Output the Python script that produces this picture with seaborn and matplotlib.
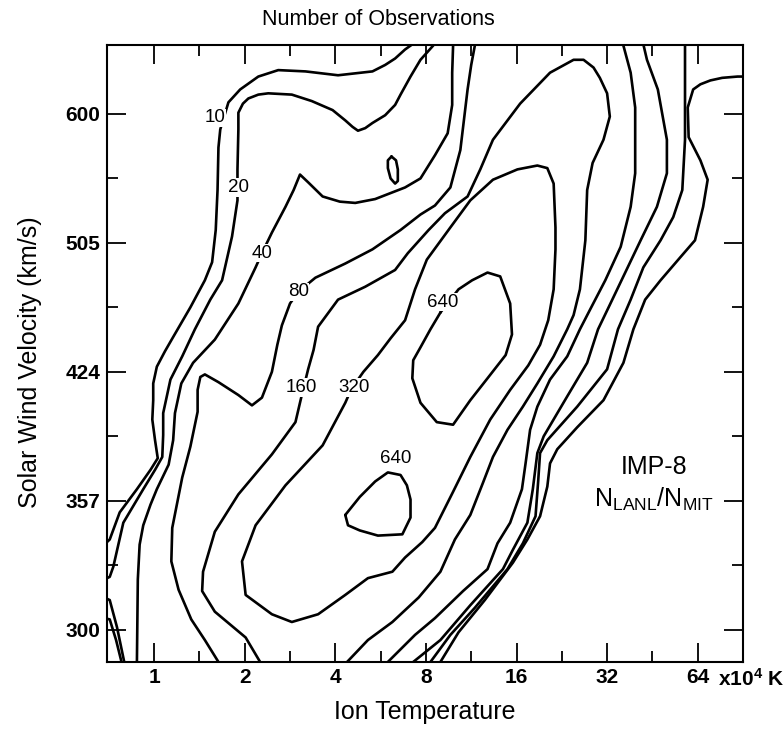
import numpy as np
import pandas as pd
import matplotlib
matplotlib.use("Agg")
import matplotlib.pyplot as plt
from matplotlib.ticker import FixedLocator, NullFormatter
import seaborn as sns

# Iso-count lines.
# x values: octaves of ion temperature above 1e4 K (0 -> 1, 6 -> 64)
# y values: quarter-octave steps of wind speed above 300 km/s (0 -> 300, 4 -> 600)

c10_west_oct = [-0.55, -0.49, -0.38, -0.19, -0.04, 0.04, 0.01, -0.02, -0.01, -0.01, 0.03, 0.12, 0.21, 0.40, 0.56, 0.64,
                0.68, 0.70, 0.71, 0.73, 0.82, 0.95, 1.15, 1.37, 1.67, 2.03, 2.41, 2.55, 2.66, 2.77, 2.85, 2.88]
c10_west_step = [0.66, 0.70, 0.91, 1.09, 1.24, 1.33, 1.47, 1.63, 1.78, 1.91, 2.04, 2.16, 2.27, 2.50, 2.71, 2.85,
                 3.10, 3.41, 3.74, 3.88, 4.09, 4.19, 4.29, 4.34, 4.33, 4.30, 4.33, 4.38, 4.43, 4.50, 4.54, 4.57]
c10_corner_oct = [-0.55, -0.49, -0.42, -0.36, -0.35]
c10_corner_step = [0.09, 0.08, -0.08, -0.25, -0.29]
c10_east_oct = [6.54, 6.44, 6.27, 6.14, 6.03, 5.95, 5.89, 5.90, 6.03, 6.11, 6.06, 5.97, 5.81, 5.59, 5.42, 5.29,
                5.18, 4.96, 4.67, 4.45, 4.37, 4.34, 4.26, 4.12, 3.96, 3.65, 3.36, 3.16, 3.12]
c10_east_step = [4.29, 4.29, 4.28, 4.26, 4.23, 4.19, 4.05, 3.82, 3.64, 3.49, 3.28, 3.02, 2.89, 2.71, 2.56, 2.33,
                 2.07, 1.78, 1.57, 1.40, 1.29, 1.11, 0.88, 0.70, 0.52, 0.23, -0.02, -0.25, -0.28]

c20_west_oct = [-0.55, -0.49, -0.45, -0.34, -0.12, 0.01, 0.09, 0.10, 0.10, 0.18, 0.31, 0.45, 0.62, 0.75, 0.86, 0.92,
                0.92, 0.93, 0.93, 0.98, 1.04, 1.15, 1.26, 1.52, 1.74, 1.97, 2.11, 2.19, 2.25, 2.33, 2.41, 2.55,
                2.66, 2.72, 2.83, 2.94, 3.08, 3.11]
c20_west_step = [0.39, 0.41, 0.49, 0.83, 1.09, 1.24, 1.34, 1.51, 1.68, 1.94, 2.12, 2.33, 2.56, 2.71, 3.05, 3.33,
                 3.57, 3.88, 4.01, 4.08, 4.12, 4.15, 4.16, 4.15, 4.10, 4.03, 3.95, 3.90, 3.87, 3.89, 3.93, 3.99,
                 4.07, 4.15, 4.29, 4.42, 4.53, 4.57]
c20_corner_oct = [-0.55, -0.49, -0.41, -0.33, -0.32]
c20_corner_step = [0.25, 0.23, 0.02, -0.25, -0.29]
c20_east_oct = [5.86, 5.86, 5.86, 5.83, 5.73, 5.59, 5.40, 5.26, 5.12, 5.00, 4.67, 4.34, 4.26, 4.24, 4.21, 4.07,
                3.90, 3.54, 3.27, 3.05, 3.01]
c20_east_step = [4.57, 4.32, 3.80, 3.41, 3.20, 3.02, 2.81, 2.56, 2.33, 2.02, 1.73, 1.47, 1.37, 1.16, 0.88, 0.67,
                 0.47, 0.17, -0.04, -0.25, -0.29]

c40_west_oct = [-0.19, -0.19, -0.18, -0.16, -0.12, -0.04, 0.03, 0.16, 0.21, 0.23, 0.30, 0.43, 0.67, 0.93, 1.12, 1.19,
                1.30, 1.45, 1.54, 1.61, 1.70, 1.86, 2.05, 2.22, 2.44, 2.66, 2.77, 2.94, 3.10, 3.24, 3.29, 3.29,
                3.30, 3.30]
c40_west_step = [-0.29, -0.25, 0.39, 0.66, 0.81, 0.97, 1.09, 1.28, 1.47, 1.68, 1.91, 2.07, 2.25, 2.53, 2.81, 2.92,
                 3.08, 3.28, 3.41, 3.53, 3.47, 3.36, 3.32, 3.31, 3.34, 3.40, 3.43, 3.50, 3.68, 3.85, 4.07, 4.32,
                 4.53, 4.57]
c40_islet_oct = [2.62, 2.67, 2.69, 2.69, 2.66, 2.61, 2.58, 2.58]
c40_islet_step = [3.67, 3.64, 3.57, 3.48, 3.46, 3.50, 3.58, 3.64]
c40_east_oct = [5.39, 5.44, 5.56, 5.66, 5.66, 5.55, 5.37, 5.20, 5.03, 4.90, 4.78, 4.56, 4.30, 4.23, 4.18, 4.12,
                3.96, 3.85, 3.49, 3.16, 2.86, 2.83]
c40_east_step = [4.57, 4.42, 4.19, 3.80, 3.54, 3.28, 3.02, 2.77, 2.52, 2.33, 2.07, 1.81, 1.50, 1.37, 1.09, 0.83,
                 0.62, 0.47, 0.19, -0.08, -0.25, -0.28]

c80_west_oct = [0.72, 0.71, 0.56, 0.41, 0.27, 0.19, 0.20, 0.31, 0.40, 0.48, 0.48, 0.51, 0.56, 0.71, 0.93, 1.08,
                1.19, 1.30, 1.36, 1.41, 1.50, 1.59, 1.78, 2.11, 2.41, 2.72, 2.94, 3.10, 3.27, 3.38, 3.46, 3.50,
                3.54, 3.56]
c80_west_step = [-0.29, -0.25, -0.08, 0.08, 0.31, 0.53, 0.79, 1.18, 1.42, 1.69, 1.86, 1.96, 1.98, 1.92, 1.82, 1.74,
                 1.80, 2.00, 2.21, 2.36, 2.53, 2.62, 2.73, 2.84, 2.95, 3.10, 3.22, 3.29, 3.43, 3.72, 4.19, 4.38,
                 4.53, 4.57]
c80_east_oct = [5.18, 5.18, 5.26, 5.31, 5.31, 5.26, 5.15, 4.98, 4.81, 4.70, 4.56, 4.37, 4.23, 4.15, 4.10, 4.06,
                3.93, 3.79, 3.68, 3.41, 3.10, 2.88, 2.58, 2.55]
c80_east_step = [4.57, 4.53, 4.32, 4.05, 3.54, 3.28, 2.97, 2.71, 2.48, 2.33, 2.12, 1.94, 1.73, 1.55, 1.29, 1.09,
                 0.83, 0.67, 0.47, 0.30, 0.09, -0.04, -0.25, -0.28]

c160_oct = [1.18, 1.17, 1.01, 0.67, 0.53, 0.54, 0.67, 0.93, 1.30, 1.56, 1.63, 1.70, 1.76, 1.81, 2.03, 2.33,
            2.66, 2.80, 3.03, 3.21, 3.46, 3.60, 3.74, 4.04, 4.37, 4.63, 4.74, 4.85, 4.92, 5.00, 5.03, 4.96,
            4.84, 4.78, 4.76, 4.70, 4.63, 4.56, 4.41, 4.23, 4.07, 3.90, 3.74, 3.63, 3.49, 3.32, 3.16, 2.92,
            2.63, 2.36, 2.13, 2.10]
c160_step = [-0.29, -0.25, -0.06, 0.14, 0.30, 0.45, 0.76, 1.05, 1.36, 1.61, 1.82, 2.02, 2.17, 2.35, 2.56, 2.66,
             2.79, 2.92, 3.10, 3.23, 3.36, 3.57, 3.80, 4.08, 4.32, 4.42, 4.42, 4.36, 4.28, 4.16, 3.98, 3.80,
             3.62, 3.41, 3.02, 2.64, 2.44, 2.33, 2.12, 1.91, 1.73, 1.55, 1.34, 1.14, 0.89, 0.70, 0.45, 0.25,
             0.06, -0.08, -0.25, -0.28]

c320_oct = [2.16, 2.11, 1.86, 1.45, 1.12, 0.97, 1.01, 1.30, 1.52, 1.81, 2.11, 2.36, 2.63, 2.77, 2.96, 3.10,
            3.30, 3.49, 3.71, 3.93, 4.13, 4.26, 4.35, 4.41, 4.43, 4.43, 4.41, 4.34, 4.23, 4.01, 3.74, 3.49,
            3.27, 3.01, 2.88, 2.77, 2.61, 2.47, 2.31, 2.23]
c320_step = [1.84, 1.76, 1.43, 1.12, 0.81, 0.53, 0.27, 0.12, 0.06, 0.12, 0.27, 0.40, 0.45, 0.56, 0.68, 0.79,
             1.07, 1.34, 1.63, 1.86, 2.05, 2.21, 2.40, 2.64, 2.95, 3.12, 3.46, 3.58, 3.60, 3.57, 3.49, 3.33,
             3.12, 2.87, 2.64, 2.40, 2.26, 2.13, 2.00, 1.92]

c640_upper_oct = [3.16, 3.36, 3.51, 3.68, 3.82, 3.93, 3.95, 3.88, 3.68, 3.49, 3.30, 3.12, 2.94, 2.85, 2.86, 2.94, 3.05]
c640_upper_step = [2.46, 2.64, 2.71, 2.77, 2.74, 2.53, 2.29, 2.13, 1.95, 1.78, 1.59, 1.61, 1.76, 1.95, 2.09, 2.19, 2.33]
c640_lower_oct = [2.11, 2.27, 2.44, 2.58, 2.72, 2.79, 2.83, 2.83, 2.74, 2.47, 2.27, 2.14]
c640_lower_step = [0.89, 1.03, 1.15, 1.22, 1.20, 1.12, 1.01, 0.87, 0.74, 0.73, 0.77, 0.81]

label_text = ["10", "20", "40", "80", "160", "320", "640", "640"]
label_oct = [0.67, 0.93, 1.19, 1.59, 1.63, 2.21, 3.18, 2.67]
label_step = [3.97, 3.43, 2.92, 2.62, 1.88, 1.88, 2.54, 1.33]

temp_ticks = [1, 2, 4, 8, 16, 32, 64]
speed_tick_labels = ["300", "357", "424", "505", "600"]

paths = [
    ("10 west", c10_west_oct, c10_west_step, False),
    ("10 corner", c10_corner_oct, c10_corner_step, False),
    ("10 east", c10_east_oct, c10_east_step, False),
    ("20 west", c20_west_oct, c20_west_step, False),
    ("20 corner", c20_corner_oct, c20_corner_step, False),
    ("20 east", c20_east_oct, c20_east_step, False),
    ("40 west", c40_west_oct, c40_west_step, False),
    ("40 islet", c40_islet_oct, c40_islet_step, True),
    ("40 east", c40_east_oct, c40_east_step, False),
    ("80 west", c80_west_oct, c80_west_step, False),
    ("80 east", c80_east_oct, c80_east_step, False),
    ("160", c160_oct, c160_step, False),
    ("320", c320_oct, c320_step, True),
    ("640 upper", c640_upper_oct, c640_upper_step, True),
    ("640 lower", c640_lower_oct, c640_lower_step, True),
]

rows = []
for name, xs, ys, closed in paths:
    assert len(xs) == len(ys), name
    xs, ys = list(xs), list(ys)
    if closed:
        xs.append(xs[0])
        ys.append(ys[0])
    for a, b in zip(xs, ys):
        rows.append({"path": name, "temp": 2.0 ** a, "speed": 300 * 2.0 ** (b / 4)})
df = pd.DataFrame(rows)

sns.set_style("ticks")
plt.rcParams["font.family"] = ["Liberation Sans", "DejaVu Sans"]
plt.rcParams["mathtext.fontset"] = "custom"
plt.rcParams["mathtext.rm"] = "Liberation Sans"
plt.rcParams["mathtext.default"] = "regular"
for key in ["text.color", "axes.labelcolor", "xtick.color", "ytick.color", "axes.edgecolor"]:
    plt.rcParams[key] = "black"

fig = plt.figure(figsize=(7.84, 7.30), dpi=100)
ax = fig.add_axes([0.1365, 0.0932, 0.8112, 0.8452])
ax.set_xscale("log", base=2)
ax.set_yscale("log", base=2)

sns.lineplot(data=df, x="temp", y="speed", units="path", estimator=None, sort=False,
             color="black", linewidth=1.9, legend=False, ax=ax)
for line in ax.get_lines():
    line.set_solid_joinstyle("round")

for txt, a, b in zip(label_text, label_oct, label_step):
    ax.text(2.0 ** a, 300 * 2.0 ** (b / 4), txt, fontsize=13.5, ha="center", va="center", zorder=5,
            bbox=dict(facecolor="white", edgecolor="none", pad=0.6))

ax.set_xlim(2.0 ** -0.52, 2.0 ** 6.5)
ax.set_ylim(300 * 2.0 ** (-0.25 / 4), 300 * 2.0 ** (4.535 / 4))

ax.set_xticks(temp_ticks)
ax.set_xticklabels([str(t) for t in temp_ticks])
ax.xaxis.set_minor_locator(FixedLocator([2.0 ** (k + 0.5) for k in range(6)]))
ax.xaxis.set_minor_formatter(NullFormatter())
ax.set_yticks([300 * 2.0 ** (k / 4) for k in range(5)])
ax.set_yticklabels(speed_tick_labels)
ax.yaxis.set_minor_locator(FixedLocator([300 * 2.0 ** ((k + 0.5) / 4) for k in range(4)]))
ax.yaxis.set_minor_formatter(NullFormatter())

ax.tick_params(which="both", direction="in", top=True, right=True, color="black", labelcolor="black", width=1.3)
ax.tick_params(which="major", length=14, labelsize=15)
ax.tick_params(which="minor", length=8)
ax.tick_params(axis="x", pad=4)
ax.tick_params(axis="y", pad=5)
for lbl in ax.get_xticklabels() + ax.get_yticklabels():
    lbl.set_fontweight("bold")
for sp in ax.spines.values():
    sp.set_linewidth(1.5)
    sp.set_color("black")

ax.text(0.961, -0.0276, r"x10$^4$ K", transform=ax.transAxes, ha="left", va="center",
        fontsize=15, fontweight="bold")
ax.text(0.426, 1.042, "Number of Observations", transform=ax.transAxes, ha="center", va="center", fontsize=15.5)
ax.set_xlabel("Ion Temperature", fontsize=18)
ax.xaxis.set_label_coords(0.5, -0.062)
ax.set_ylabel("Solar Wind Velocity (km/s)", fontsize=18)
ax.yaxis.set_label_coords(-0.102, 0.486)

ax.text(0.860, 0.316, "IMP-8", transform=ax.transAxes, ha="center", va="center", fontsize=18)
ax.text(0.860, 0.263, r"N$_{LANL}$/N$_{MIT}$", transform=ax.transAxes, ha="center", va="center", fontsize=18)

fig.savefig("out.png", dpi=100)
